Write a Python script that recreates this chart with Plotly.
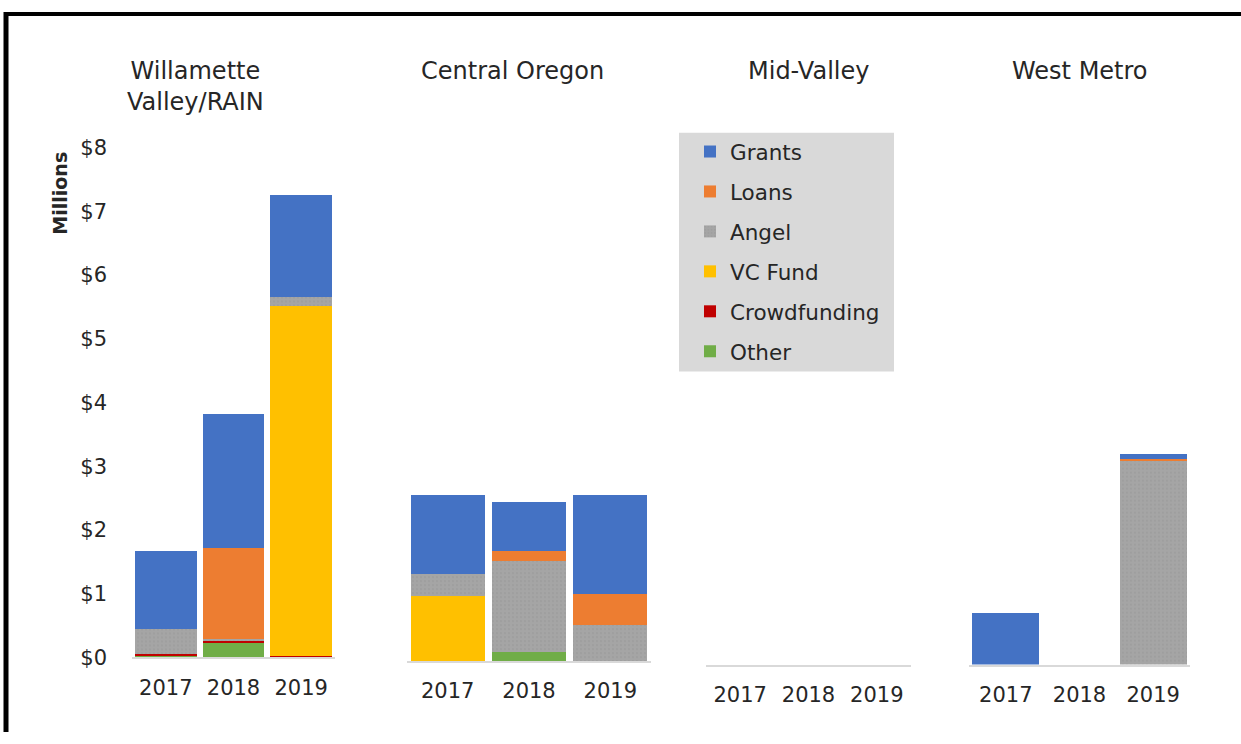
import plotly.graph_objects as go

# Funding by region and year, millions of dollars
years = ["2017", "2018", "2019"]
regions = ["Willamette<br>Valley/RAIN", "Central Oregon", "Mid-Valley", "West Metro"]

# stacking order bottom -> top
series = ["Other", "Crowdfunding", "VC Fund", "Angel", "Loans", "Grants"]
# legend order top -> bottom
legend_rank = {"Grants": 1, "Loans": 2, "Angel": 3, "VC Fund": 4, "Crowdfunding": 5, "Other": 6}
colors = {
    "Grants": "#4472C4",
    "Loans": "#ED7D31",
    "Angel": "#A5A5A5",
    "VC Fund": "#FFC000",
    "Crowdfunding": "#C00000",
    "Other": "#70AD47",
}

willamette = {
    "Other":        [0.02, 0.23, 0.00],
    "Crowdfunding": [0.03, 0.03, 0.03],
    "VC Fund":      [0.00, 0.00, 5.49],
    "Angel":        [0.39, 0.03, 0.14],
    "Loans":        [0.00, 1.42, 0.00],
    "Grants":       [1.23, 2.11, 1.60],
}
central_oregon = {
    "Other":        [0.00, 0.14, 0.00],
    "Crowdfunding": [0.00, 0.00, 0.00],
    "VC Fund":      [1.02, 0.00, 0.00],
    "Angel":        [0.34, 1.43, 0.56],
    "Loans":        [0.00, 0.16, 0.49],
    "Grants":       [1.25, 0.76, 1.56],
}
mid_valley = {
    "Other":        [0.0, 0.0, 0.0],
    "Crowdfunding": [0.0, 0.0, 0.0],
    "VC Fund":      [0.0, 0.0, 0.0],
    "Angel":        [0.0, 0.0, 0.0],
    "Loans":        [0.0, 0.0, 0.0],
    "Grants":       [0.0, 0.0, 0.0],
}
west_metro = {
    "Other":        [0.00, 0.0, 0.00],
    "Crowdfunding": [0.00, 0.0, 0.00],
    "VC Fund":      [0.00, 0.0, 0.00],
    "Angel":        [0.00, 0.0, 3.20],
    "Loans":        [0.00, 0.0, 0.02],
    "Grants":       [0.81, 0.0, 0.08],
}
panels = [willamette, central_oregon, mid_valley, west_metro]

W, H = 1241, 744
FONT = "DejaVu Sans, Verdana, sans-serif"
TXT = "#262626"

def px_x(a, b):
    return [a / W, b / W]

def py(y):
    return (H - y) / H

# panel geometry in pixels
x_dom = [px_x(132, 335), px_x(407, 651), px_x(706, 911), px_x(969, 1190)]
y_dom = [[py(667), py(140)], [py(670.7), py(143.8)], [py(674.3), py(147.4)], [py(674.3), py(147.4)]]
title_x = [195, 512, 808, 1080]

fig = go.Figure()

for i, data in enumerate(panels):
    sfx = "" if i == 0 else str(i + 1)
    for s in series:
        marker = dict(color=colors[s], line=dict(width=0))
        if s == "Angel":
            marker["pattern"] = dict(shape=".", fgcolor="#979797", size=4, solidity=0.25)
        fig.add_trace(go.Bar(
            x=years, y=data[s], name=s,
            marker=marker,
            xaxis="x" + sfx, yaxis="y" + sfx,
            legendgroup=s, legendrank=legend_rank[s], showlegend=(i == 0),
        ))

layout = dict(
    width=W, height=H,
    margin=dict(l=0, r=0, t=0, b=0),
    paper_bgcolor="white", plot_bgcolor="white",
    barmode="stack", bargap=0.09,
    font=dict(family=FONT, size=21, color=TXT),
    legend=dict(
        x=690 / W, y=py(123), xanchor="left", yanchor="top",
        bgcolor="rgba(0,0,0,0)", traceorder="grouped", tracegroupgap=9,
        font=dict(family=FONT, size=21.5, color=TXT),
        itemwidth=30,
    ),
)

for i in range(4):
    sfx = "" if i == 0 else str(i + 1)
    layout["xaxis" + sfx] = dict(
        domain=x_dom[i], anchor="y" + sfx,
        showline=True, linecolor="#D9D9D9", linewidth=2,
        showgrid=False, zeroline=False, ticks="",
        ticklabelstandoff=10, fixedrange=True,
        tickfont=dict(family=FONT, size=21, color=TXT),
    )
    layout["yaxis" + sfx] = dict(
        domain=y_dom[i], anchor="x" + sfx, range=[0, 8],
        showgrid=False, zeroline=False, showline=False,
        showticklabels=(i == 0), dtick=1, tickprefix="$",
        ticklabelstandoff=24, fixedrange=True,
        tickfont=dict(family=FONT, size=21, color=TXT),
    )

fig.update_layout(**layout)

for i, name in enumerate(regions):
    fig.add_annotation(
        text=name, xref="paper", yref="paper",
        x=title_x[i] / W, y=py(44.7), xanchor="center", yanchor="top",
        showarrow=False, align="center",
        font=dict(family=FONT, size=24, color=TXT),
    )

fig.add_annotation(
    text="<b>Millions</b>", xref="paper", yref="paper",
    x=60 / W, y=py(187.7), xanchor="center", yanchor="middle",
    textangle=-90, showarrow=False,
    font=dict(family=FONT, size=19, color=TXT),
)

# legend background box
fig.add_shape(type="rect", xref="paper", yref="paper",
              x0=679 / W, x1=894 / W, y0=py(371.6), y1=py(124.7),
              fillcolor="#D9D9D9", line=dict(width=0), layer="below")

# frame (top and left only)
fig.add_shape(type="line", xref="paper", yref="paper",
              x0=4 / W, x1=1.0, y0=py(2), y1=py(2),
              line=dict(color="black", width=4))
fig.add_shape(type="line", xref="paper", yref="paper",
              x0=6 / W, x1=6 / W, y0=0, y1=py(0),
              line=dict(color="black", width=5))

fig.write_html(
    "out.html",
    config={"displayModeBar": False},
    post_script="document.body.style.margin='0';document.body.style.overflow='hidden';",
)
